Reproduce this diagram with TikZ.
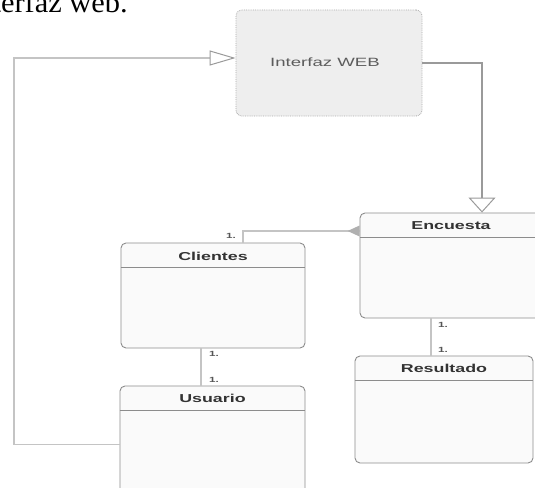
\documentclass[tikz,border=0pt]{standalone}
\usepackage{fontspec}
\setmainfont{Liberation Sans}
\newfontfamily\serifface{Liberation Serif}
\usepackage{graphicx}
\usetikzlibrary{arrows.meta}
\newcommand{\sx}[1]{\scalebox{1.55}[1]{#1}}
\definecolor{boxgray}{HTML}{8C8C8C}
\definecolor{webfill}{HTML}{EEEEEE}
\definecolor{webline}{HTML}{AAAAAA}
\definecolor{linkgray}{HTML}{C4C4C4}
\definecolor{darklink}{HTML}{9A9A9A}
\definecolor{labelgray}{HTML}{555555}
\definecolor{titlegray}{HTML}{333333}
\begin{document}
\begin{tikzpicture}[x=1pt,y=-1pt,
  umlbox/.style={draw=boxgray, line width=0.9pt, rounded corners=5pt, fill=white!98!black, inner sep=0pt},
  webbox/.style={draw=webline, densely dotted, line width=0.8pt, rounded corners=6pt, fill=webfill, inner sep=0pt},
  titletext/.style={font=\fontsize{11.5}{12}\selectfont\bfseries, text=titlegray, inner sep=0pt},
  webtext/.style={font=\fontsize{12}{13}\selectfont, text=titlegray!80, inner sep=0pt},
  multlabel/.style={font=\fontsize{7.5}{8}\selectfont\bfseries, text=labelgray, inner sep=0pt},
  headline/.style={draw=boxgray, line width=0.9pt},
  lightlink/.style={draw=linkgray, line width=1.6pt},
  darkconn/.style={draw=darklink, line width=1.1pt}
]
\path[use as bounding box] (0,0) rectangle (535,487);
\clip (0,0) rectangle (535,487);

% cropped document text
\node[font=\serifface\fontsize{29}{31}\selectfont, anchor=base east, inner sep=0pt] (doctext) at (128,13) {\scalebox{1.05}[1]{Interfaz web.}};

% boxes
\node[webbox, minimum width=186pt, minimum height=106pt] (web) at (329,63) {};
\node[webtext] (webt) at (325,62) {\sx{Interfaz WEB}};

\node[umlbox, minimum width=182pt, minimum height=105pt] (enc) at (451,265.5) {};
\node[titletext] (enct) at (451,226) {\sx{Encuesta}};
\draw[headline] (enc.west |- 0,237) -- (enc.east |- 0,237);

\node[umlbox, minimum width=184pt, minimum height=105pt] (cli) at (213,295.5) {};
\node[titletext] (clit) at (213,256) {\sx{Clientes}};
\draw[headline] (cli.west |- 0,267) -- (cli.east |- 0,267);

\node[umlbox, minimum width=185pt, minimum height=110pt] (usu) at (212.5,441) {};
\node[titletext] (usut) at (212.5,398) {\sx{Usuario}};
\draw[headline] (usu.west |- 0,410.5) -- (usu.east |- 0,410.5);

\node[umlbox, minimum width=178pt, minimum height=107pt] (res) at (444,409.5) {};
\node[titletext] (rest) at (444,368.5) {\sx{Resultado}};
\draw[headline] (res.west |- 0,380.5) -- (res.east |- 0,380.5);

% connectors
\coordinate (lc) at (14,58);
\draw[lightlink, -{Triangle[open, length=26pt, width=15pt, line width=1pt, color=darklink]}]
  ([yshift=-3.5pt]usu.west) -| (lc) -- (web.west |- lc);

\coordinate (rc) at (482,63);
\draw[darkconn, -{Triangle[open, length=15pt, width=27pt, line width=1pt, color=darklink]}]
  (web.east |- rc) -- (rc) -- (rc |- enc.north);

\coordinate (ct) at (243,231);
\draw[lightlink] (cli.north -| ct) -- (ct) -- (enc.west |- ct);
\fill[linkgray!90!black] (enc.west |- ct) ++(0,-5.5) -- ++(-12,5.5) -- ++(12,5.5) -- cycle;

\coordinate (cu) at (201,0);
\draw[lightlink] (cli.south -| cu) -- (usu.north -| cu);

\coordinate (er) at (431,0);
\draw[lightlink] (enc.south -| er) -- (res.north -| er);

% multiplicity labels
\node[multlabel, anchor=east] (m1) at (236,236) {\sx{1.}};
\node[multlabel, anchor=west] (m2) at (209,354) {\sx{1.}};
\node[multlabel, anchor=west] (m3) at (209,380) {\sx{1.}};
\node[multlabel, anchor=west] (m4) at (438,325) {\sx{1.}};
\node[multlabel, anchor=west] (m5) at (438,350) {\sx{1.}};
\end{tikzpicture}
\end{document}
